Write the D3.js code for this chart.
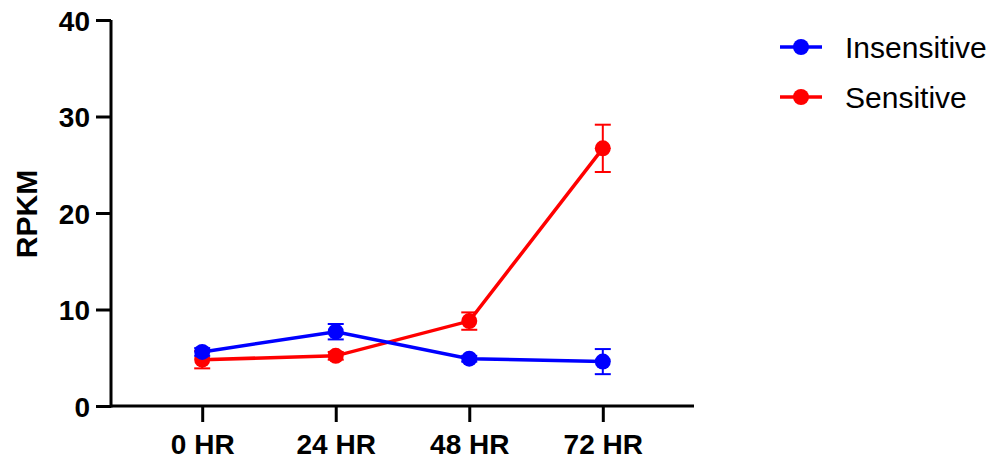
<!DOCTYPE html>
<html>
<head>
<meta charset="utf-8">
<script src="https://cdn.jsdelivr.net/npm/d3@7"></script>
<style>
  body { margin: 0; background: #fff; }
  svg { display: block; font-family: "Liberation Sans", Arial, sans-serif; }
</style>
</head>
<body>
<div id="chart"></div>
<script>
// categories and series (mean, error)
var categories = ["0 HR", "24 HR", "48 HR", "72 HR"];
var seriesNames = ["Insensitive", "Sensitive"];
var seriesColors = ["#0000ff", "#ff0000"];
var insensitiveMean = [5.6, 7.7, 4.9, 4.6];
var insensitiveErr = [0.4, 0.8, 0.3, 1.3];
var sensitiveMean = [4.8, 5.2, 8.8, 26.7];
var sensitiveErr = [0.9, 0.4, 0.9, 2.45];
var yTicks = [0, 10, 20, 30, 40];

var svgWidth = 995, svgHeight = 463;

var svg = d3.select("#chart")
  .append("svg")
  .attr("width", svgWidth)
  .attr("height", svgHeight);

var xScale = d3.scalePoint()
  .domain(categories)
  .range([111, 694])
  .padding(0.683);

var yScale = d3.scaleLinear()
  .domain([0, 40])
  .range([406, 20]);

// y axis
var yAxis = svg.append("g")
  .attr("transform", "translate(111,0)")
  .call(d3.axisLeft(yScale).tickValues(yTicks).tickSize(15).tickPadding(6));

// x axis
var xAxis = svg.append("g")
  .attr("transform", "translate(0,406)")
  .call(d3.axisBottom(xScale).tickSize(16).tickPadding(12));

xAxis.select(".domain").attr("d", "M110,0H694");
yAxis.select(".domain").attr("d", "M0,20V407.5");

svg.selectAll(".domain, .tick line")
  .attr("stroke", "#000")
  .attr("stroke-width", 3);

svg.selectAll(".tick text")
  .attr("fill", "#000")
  .attr("font-size", "28px")
  .attr("font-weight", "bold")
  .attr("font-family", "\"Liberation Sans\", Arial, sans-serif");

yAxis.selectAll(".tick text").attr("dy", "0.36em");

// y axis label
svg.append("text")
  .attr("transform", "translate(37,214) rotate(-90)")
  .attr("text-anchor", "middle")
  .attr("font-size", "30px")
  .attr("font-weight", "bold")
  .attr("fill", "#000")
  .text("RPKM");

var series = [
  { name: seriesNames[0], color: seriesColors[0], mean: insensitiveMean, err: insensitiveErr },
  { name: seriesNames[1], color: seriesColors[1], mean: sensitiveMean, err: sensitiveErr }
];

var line = d3.line()
  .x(function(d) { return xScale(d.cat); })
  .y(function(d) { return yScale(d.value); });

// draw sensitive first, insensitive on top
[series[1], series[0]].forEach(function(s) {
  var pts = categories.map(function(c, i) {
    return { cat: c, value: s.mean[i], err: s.err[i] };
  });
  var g = svg.append("g");

  // error bars
  var eb = g.selectAll(".eb").data(pts).enter().append("g");
  eb.append("line")
    .attr("x1", d => xScale(d.cat)).attr("x2", d => xScale(d.cat))
    .attr("y1", d => yScale(d.value - d.err)).attr("y2", d => yScale(d.value + d.err))
    .attr("stroke", s.color).attr("stroke-width", 2);
  eb.append("line")
    .attr("x1", d => xScale(d.cat) - 8).attr("x2", d => xScale(d.cat) + 8)
    .attr("y1", d => yScale(d.value + d.err)).attr("y2", d => yScale(d.value + d.err))
    .attr("stroke", s.color).attr("stroke-width", 2);
  eb.append("line")
    .attr("x1", d => xScale(d.cat) - 8).attr("x2", d => xScale(d.cat) + 8)
    .attr("y1", d => yScale(d.value - d.err)).attr("y2", d => yScale(d.value - d.err))
    .attr("stroke", s.color).attr("stroke-width", 2);

  g.append("path")
    .datum(pts)
    .attr("d", line)
    .attr("fill", "none")
    .attr("stroke", s.color)
    .attr("stroke-width", 3.5);

  g.selectAll("circle").data(pts).enter().append("circle")
    .attr("cx", d => xScale(d.cat))
    .attr("cy", d => yScale(d.value))
    .attr("r", 8)
    .attr("fill", s.color);
});

// legend
var legend = svg.selectAll(".legend").data(series).enter().append("g")
  .attr("transform", function(d, i) { return "translate(780," + (47 + i * 50) + ")"; });

legend.append("line")
  .attr("x1", 0).attr("x2", 42)
  .attr("stroke", d => d.color).attr("stroke-width", 3.5);
legend.append("circle")
  .attr("cx", 21).attr("r", 8)
  .attr("fill", d => d.color);
legend.append("text")
  .attr("x", 65).attr("dy", "0.36em")
  .attr("font-size", "30px")
  .attr("fill", "#000")
  .text(d => d.name);
</script>
</body>
</html>
